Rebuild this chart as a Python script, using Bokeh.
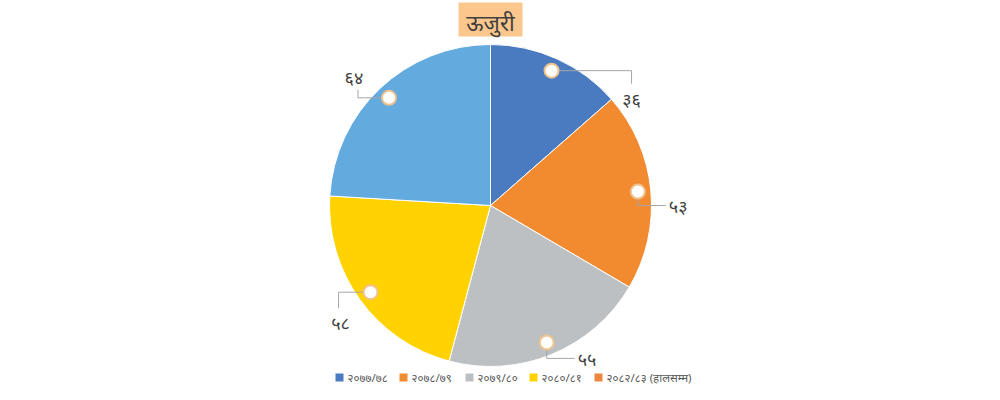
import math
from bokeh.plotting import figure
from bokeh.models import Range1d, ColumnDataSource
from bokeh.core.properties import value
from bokeh.embed import file_html
from bokeh.resources import INLINE

# ---------------- data ----------------
title = "ऊजुरी"
categories = ["२०७७/७८", "२०७८/७९", "२०७९/८०", "२०८०/८१", "२०८२/८३ (हालसम्म)"]
values = [36, 53, 55, 58, 64]
value_labels = ["३६", "५३", "५५", "५८", "६४"]
slice_colors = ["#4A7BC1", "#F28A30", "#BDC0C3", "#FFD200", "#63AADF"]
legend_colors = ["#4A7BC1", "#F28A30", "#BDC0C3", "#FFD200", "#EE8840"]

# ---------------- style / layout ----------------
FONT = "Noto Sans"
W, H = 992, 392
CX, CY, R = 490, 205, 161          # picture pixel coords (y down)
RM = 148                           # radius of the label markers
# leader line bends (relative to marker, y down) and label offsets
leader_bends = [
    [(80, 0), (80, 13)],
    [(0, 14), (28, 14)],
    [(0, 16), (28, 16)],
    [(-32, 0), (-32, 16)],
    [(-31, 0), (-31, -8)],
]
label_offsets = [(80, 28, "center"), (31, 14, "left"), (31, 17, "left"),
                 (-30, 31, "center"), (-35, -21, "center")]
legend_x = [339, 403, 469, 533, 598]
legend_y = 377


def Y(py):
    return 400 - py


p = figure(width=W, height=H, x_range=Range1d(0, 992), y_range=Range1d(8, 400),
           output_backend="svg", toolbar_location=None, min_border=0,
           x_axis_location=None, y_axis_location=None)
p.grid.visible = False
p.outline_line_color = None
p.background_fill_color = "white"
p.border_fill_color = "white"

# ---------------- pie ----------------
total = sum(values)
cum = 0
starts, ends, mids = [], [], []
for v in values:
    a0 = math.pi / 2 - 2 * math.pi * cum / total
    cum += v
    a1 = math.pi / 2 - 2 * math.pi * cum / total
    starts.append(a1)
    ends.append(a0)
    mids.append((a0 + a1) / 2)

src = ColumnDataSource(dict(x=[CX] * len(values), y=[Y(CY)] * len(values),
                            start=starts, end=ends, color=slice_colors))
p.wedge(x="x", y="y", radius=R, start_angle="start", end_angle="end",
        fill_color="color", line_color="white", line_width=1, source=src)

# ---------------- data labels ----------------
mx = [CX + RM * math.cos(a) for a in mids]
my = [Y(CY) + RM * math.sin(a) for a in mids]   # data coords (y up)

for i in range(len(values)):
    xs = [mx[i]] + [mx[i] + dx for dx, dy in leader_bends[i]]
    ys = [my[i]] + [my[i] - dy for dx, dy in leader_bends[i]]
    p.line(xs, ys, line_color="#A6A6A6", line_width=1)

p.scatter(mx, my, size=14, fill_color="white", line_color="#F0C38E", line_width=2)

for i, lab in enumerate(value_labels):
    dx, dy, al = label_offsets[i]
    p.text([mx[i] + dx], [my[i] - dy], text=[lab], text_align=al,
           text_baseline="middle", text_font=value(FONT), text_font_size="18px",
           text_color="#404040")

# ---------------- title ----------------
p.rect([490], [Y(19)], width=64, height=34, fill_color="#FBC78C", line_color=None)
p.text([490], [Y(21)], text=[title], text_align="center", text_baseline="middle",
       text_font=value(FONT), text_font_size="22px", text_color="#3F3F3F")

# ---------------- legend ----------------
p.rect(legend_x, [Y(legend_y)] * len(categories), width=8, height=8,
       fill_color=legend_colors, line_color=None)
p.text([x + 8 for x in legend_x], [Y(legend_y)] * len(categories), text=categories,
       text_align="left", text_baseline="middle", text_font=value(FONT),
       text_font_size="11.5px", text_color="#595959")

open("out.html", "w").write(file_html(p, INLINE))
